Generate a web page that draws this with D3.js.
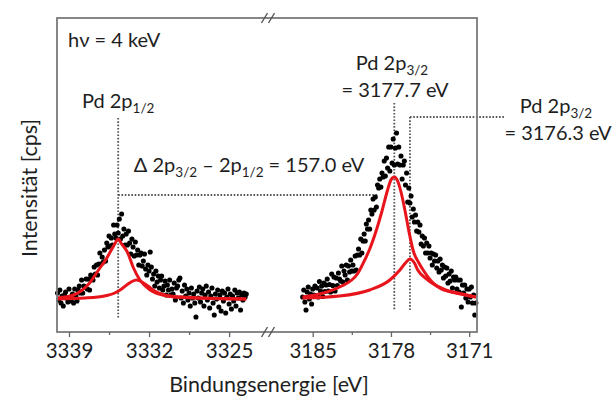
<!DOCTYPE html>
<html>
<head>
<meta charset="utf-8">
<script src="https://cdn.jsdelivr.net/npm/d3@7"></script>
<style>
  html, body { margin: 0; padding: 0; background: #fff; }
  svg { display: block; font-family: Lato, "Open Sans", sans-serif; }
</style>
</head>
<body>
<svg id="chart" width="616" height="396"></svg>
<script>
// Pd 2p core-level spectrum (hν = 4 keV), shown in two binding-energy windows.

// Measured counts, 0.1 eV steps, starting at the high binding-energy end of each window
const stepEV = 0.1;
const startLowEV = 3340.0;   // Pd 2p1/2 window
const startHighEV = 3185.9;  // Pd 2p3/2 window

const countsLow = [
  1040, 970, 1070, 940, 1010, 910, 1020, 1050, 990, 950,
  1080, 1000, 960, 1030, 940, 1080, 1010, 960, 1070, 1110,
  1040, 1170, 1040, 1110, 1100, 1180, 1080, 1180, 1070, 1220,
  1190, 1170, 1300, 1230, 1320, 1220, 1330, 1440, 1330, 1400,
  1350, 1470, 1360, 1540, 1500, 1610, 1510, 1590, 1520, 1720,
  1630, 1590, 1720, 1640, 1780, 1580, 1830, 1610, 1680, 1520,
  1630, 1520, 1660, 1540, 1430, 1580, 1500, 1410, 1550, 1420,
  1470, 1320, 1420, 1440, 1310, 1360, 1430, 1280, 1220, 1320,
  1260, 1450, 1300, 1180, 1230, 1110, 1260, 1150, 1210, 1090,
  1170, 1210, 1070, 1110, 1160, 1020, 1120, 1070, 1170, 1020,
  1080, 1030, 1140, 970, 1090, 1110, 1170, 1190, 990, 1060,
  940, 1120, 1010, 1080, 970, 1040, 910, 1090, 990, 1030,
  940, 800, 1060, 990, 1100, 950, 1040, 1080, 910, 1020,
  1110, 970, 1050, 890, 1010, 1090, 940, 820, 1030, 980,
  1070, 900, 1020, 860, 1060, 960, 1040, 840, 1000, 1080,
  930, 1030, 880, 1010, 960, 1070, 910, 1040, 990, 1050,
  870, 1020, 970, 1040, 1000, 1030
];

const countsHigh = [
  1000, 1070, 950, 870, 1050, 1100, 980, 1030, 930, 1080,
  1020, 1110, 1015, 1090, 1000, 1155, 1060, 1110, 1005, 1140,
  1055, 1120, 1180, 1060, 1125, 1050, 1230, 1115, 1200, 1060,
  1190, 1115, 1240, 1180, 1160, 1310, 1150, 1260, 1220, 1320,
  1170, 1310, 1250, 1370, 1260, 1320, 1260, 1410, 1270, 1420,
  1480, 1420, 1580, 1440, 1560, 1630, 1560, 1730, 1680, 1770,
  1680, 1870, 1830, 1980, 1870, 2000, 1900, 2120, 2090, 2180,
  2100, 2240, 2200, 2360, 2210, 2390, 2290, 2500, 2260, 2500,
  2340, 2580, 2320, 2490, 2640, 2330, 2500, 2320, 2410, 2180,
  2320, 2360, 2120, 2240, 1950, 2090, 1940, 2010, 1800, 1880,
  1750, 1820, 1660, 1750, 1650, 1720, 1530, 1610, 1510, 1590,
  1440, 1540, 1440, 1510, 1390, 1440, 1320, 1430, 1360, 1420,
  1290, 1360, 1250, 1380, 1270, 1320, 1190, 1300, 1210, 1290,
  1140, 1230, 1160, 1260, 1090, 1200, 1170, 1200, 1080, 1170,
  1050, 1170, 900, 1120, 1040, 1120, 990, 1080, 950, 1080,
  1000, 1100, 940, 1020, 820, 940
];

// Fitted components (energy in eV, intensity in cps)
const fitLowMainE  = [3340.0, 3338.6, 3337.2, 3336.3, 3335.8, 3335.4, 3335.0, 3334.7, 3334.4, 3333.9, 3333.4, 3332.8, 3331.9, 3330.8, 3329.3, 3323.5];
const fitLowMainI  = [990, 1020, 1140, 1290, 1370, 1450, 1530, 1580, 1530, 1450, 1300, 1170, 1070, 1020, 1000, 980];
const fitLowSubE   = [3340.0, 3337.6, 3336.5, 3335.7, 3335.0, 3334.4, 3333.9, 3333.5, 3333.1, 3332.7, 3332.1, 3331.5, 3330.8, 3329.8, 3323.5];
const fitLowSubI   = [980, 990, 1000, 1015, 1040, 1080, 1125, 1155, 1170, 1155, 1110, 1060, 1025, 1000, 980];
const fitHighMainE = [3185.9, 3184.4, 3182.6, 3181.0, 3180.3, 3179.9, 3179.3, 3178.8, 3178.3, 3178.0, 3177.7, 3177.4, 3177.1, 3176.7, 3176.4, 3176.0, 3175.5, 3175.0, 3174.4, 3173.5, 3172.0, 3170.4];
const fitHighMainI = [1000, 1030, 1100, 1230, 1380, 1480, 1670, 1860, 2070, 2170, 2200, 2160, 2050, 1840, 1660, 1460, 1340, 1250, 1160, 1080, 1040, 1000];
const fitHighSubE  = [3185.9, 3182.6, 3179.9, 3178.1, 3177.2, 3176.7, 3176.3, 3175.9, 3175.6, 3174.7, 3173.1, 3171.4, 3170.4];
const fitHighSubI  = [990, 1010, 1070, 1170, 1270, 1340, 1380, 1340, 1270, 1170, 1070, 1020, 1000];

// Axis ticks
const ticksLow = [3339, 3332, 3325];
const minorLow = [3335.5, 3328.5];
const ticksHigh = [3185, 3178, 3171];
const minorHigh = [3181.5, 3174.5];

// Peak positions (eV)
const peak12 = 3334.7;
const peak32 = 3177.7;
const peak32b = 3176.3;
const splitting = 157.0;

// ---- layout ----
const frame = { left: 57, top: 18, right: 477, bottom: 332 };
const breakX = 268;
const font = 20, subFont = 13.5, tickFont = 20.5, titleFont = 21.5;
const ink = "#1e1e1e";

const svg = d3.select("#chart");

const y = d3.scaleLinear().domain([650, 3790]).range([frame.bottom, frame.top]);
const xLow = d3.scaleLinear().domain([3340.05, 3321.6]).range([frame.left, breakX]);
const xHigh = d3.scaleLinear().domain([3189.0, 3170.3]).range([breakX, frame.right]);

// annotation guide lines (dotted)
const guides = svg.append("g")
  .attr("fill", "none")
  .attr("stroke", "#555")
  .attr("stroke-width", 1.8)
  .attr("stroke-dasharray", "1.6 1.7");

const vLine = (x, i0, i1) => guides.append("line").attr("x1", x).attr("x2", x).attr("y1", y(i0)).attr("y2", y(i1));
const hLine = (xa, xb, i) => guides.append("line").attr("x1", xa).attr("x2", xb).attr("y1", y(i)).attr("y2", y(i));

vLine(xLow(peak12), 2790, 790);
hLine(xLow(peak12), xHigh(3179.2), 2020);
vLine(xHigh(peak32), 2940, 870);
vLine(xHigh(peak32b), 2800, 870);
hLine(xHigh(peak32b), xHigh(3167.8), 2800);

// measured points
const pts = svg.append("g").attr("fill", "#000");
pts.selectAll("circle.low")
  .data(countsLow)
  .join("circle")
  .attr("class", "low")
  .attr("cx", (d, i) => xLow(startLowEV - i * stepEV))
  .attr("cy", d => y(d))
  .attr("r", 2.55);
pts.selectAll("circle.high")
  .data(countsHigh)
  .join("circle")
  .attr("class", "high")
  .attr("cx", (d, i) => xHigh(startHighEV - i * stepEV))
  .attr("cy", d => y(d))
  .attr("r", 2.55);

// fitted components
const fits = svg.append("g")
  .attr("fill", "none")
  .attr("stroke", "#e8141b")
  .attr("stroke-width", 3)
  .attr("stroke-linejoin", "round");

function drawFit(xs, es, is) {
  const line = d3.line()
    .x(d => xs(d[0]))
    .y(d => y(d[1]))
    .curve(d3.curveMonotoneX);
  fits.append("path").attr("d", line(es.map((e, k) => [e, is[k]])));
}
drawFit(xLow, fitLowSubE, fitLowSubI);
drawFit(xLow, fitLowMainE, fitLowMainI);
drawFit(xHigh, fitHighSubE, fitHighSubI);
drawFit(xHigh, fitHighMainE, fitHighMainI);

// frame
svg.append("rect")
  .attr("x", frame.left).attr("y", frame.top)
  .attr("width", frame.right - frame.left).attr("height", frame.bottom - frame.top)
  .attr("fill", "none").attr("stroke", "#7a7a7a").attr("stroke-width", 1.8);

// axis break marks on top and bottom edges
[frame.top, frame.bottom].forEach(yy => {
  [-3.5, 3.5].forEach(off => {
    svg.append("line")
      .attr("x1", breakX + off - 3).attr("y1", yy + 5)
      .attr("x2", breakX + off + 3).attr("y2", yy - 5)
      .attr("stroke", "#555").attr("stroke-width", 1.4);
  });
});

// bottom axes
function axis(scale, majors, minors) {
  const gMaj = svg.append("g")
    .attr("transform", `translate(0,${frame.bottom})`)
    .call(d3.axisBottom(scale).tickValues(majors).tickSize(5).tickFormat(d3.format("d")));
  const gMin = svg.append("g")
    .attr("transform", `translate(0,${frame.bottom})`)
    .call(d3.axisBottom(scale).tickValues(minors).tickSize(3).tickFormat(""));
  [gMaj, gMin].forEach(g => {
    g.select(".domain").remove();
    g.selectAll(".tick line").attr("stroke", "#666").attr("stroke-width", 1.3);
  });
  gMaj.selectAll(".tick text")
    .attr("y", 26).attr("dy", 0)
    .attr("fill", ink)
    .style("font-family", "Lato, 'Open Sans', sans-serif")
    .style("font-size", tickFont + "px");
}
axis(xLow, ticksLow, minorLow);
axis(xHigh, ticksHigh, minorHigh);

// axis titles
svg.append("text")
  .attr("x", breakX + 1).attr("y", 392)
  .attr("text-anchor", "middle")
  .attr("fill", ink).attr("font-size", titleFont)
  .text("Bindungsenergie [eV]");

svg.append("text")
  .attr("transform", "translate(37,188) rotate(-90)")
  .attr("text-anchor", "middle")
  .attr("fill", ink).attr("font-size", titleFont)
  .text("Intensität [cps]");

// rich labels with subscripts
function rich(x, yy, anchor, parts) {
  const t = svg.append("text")
    .attr("x", x).attr("y", yy)
    .attr("text-anchor", anchor)
    .attr("fill", ink).attr("font-size", font);
  let shifted = false;
  parts.forEach(([s, sub]) => {
    const ts = t.append("tspan").text(s);
    if (sub && !shifted) { ts.attr("dy", 5).attr("font-size", subFont); shifted = true; }
    else if (sub) { ts.attr("font-size", subFont); }
    else if (shifted) { ts.attr("dy", -5); shifted = false; }
  });
  return t;
}

svg.append("text")
  .attr("x", 68).attr("y", 47)
  .attr("fill", ink).attr("font-size", font)
  .text("hν = 4 keV");

rich(xLow(peak12), 108, "middle", [["Pd 2p"], ["1/2", true]]);

rich(249, 172, "middle", [
  ["Δ 2p"], ["3/2", true], [" – 2p"], ["1/2", true], [` = ${splitting.toFixed(1)} eV`]
]);

rich(392, 70, "middle", [["Pd 2p"], ["3/2", true]]);
svg.append("text")
  .attr("x", 395).attr("y", 97)
  .attr("text-anchor", "middle")
  .attr("fill", ink).attr("font-size", font)
  .text(`= ${peak32.toFixed(1)} eV`);

rich(556, 113, "middle", [["Pd 2p"], ["3/2", true]]);
svg.append("text")
  .attr("x", 558).attr("y", 140)
  .attr("text-anchor", "middle")
  .attr("fill", ink).attr("font-size", font)
  .text(`= ${peak32b.toFixed(1)} eV`);
</script>
</body>
</html>
